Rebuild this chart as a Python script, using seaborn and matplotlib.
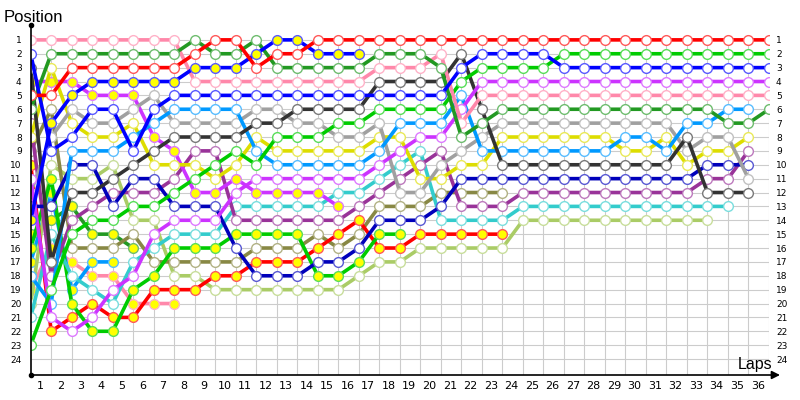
import numpy as np
import pandas as pd
import matplotlib
matplotlib.use("Agg")
import matplotlib.pyplot as plt
import seaborn as sns
from matplotlib.lines import Line2D
from matplotlib.colors import to_rgb

# ---------------- data (position per lap, lap 0 = grid) ----------------
lap_labels = list(range(1, 37))
position_labels = list(range(1, 25))

red_w = [5,5,3,3,3,3,3,3,2,1, 1,3,2,2,1,1,1,1,1,1, 1,1,1,1,1,1,1,1,1,1, 1,1,1,1,1,1,1]
green_w = [23,19,15,14,14,13,13,12,11,10, 9,10,8,8,8,7,7,6,6,6, 6,4,3,3,3,3,2,2,2,2, 2,2,2,2,2,2,2]
blue_w = [2,9,8,6,6,9,6,5,5,5, 5,5,5,5,5,5,5,5,5,5, 5,3,2,2,2,2,3,3,3,3, 3,3,3,3,3,3,3]
purple_w = [11,21,22,21,19,18,15,14,14,14, 12,11,11,11,11,11,11,10,9,8, 8,6,4,4,4,4,4,4,4,4, 4,4,4,4,4,4,4]
pink_w = [1,1,1,1,1,1,1,1,4,4, 4,4,4,4,4,4,4,3,3,3, 2,7,5,5,5,5,5,5,5,5, 5,5,5,5,5,5,5]
dkgreen_w = [6,2,2,2,2,2,2,2,1,2, 2,1,3,3,3,3,3,2,2,2, 3,8,7,6,6,6,6,6,6,6, 6,6,6,6,7,7,6]
gray_w = [12,8,6,7,7,6,5,7,7,7, 7,6,6,7,7,8,8,7,12,12, 10,9,8,7,7,7,7,7,7,7, 7,7,9,8,8,11]
yellow_w = [8,3,7,8,8,7,10,10,10,11, 10,8,9,9,9,9,9,8,8,11, 11,10,10,8,8,8,8,8,8,9, 9,8,10,9,9,8]
lightblue_w = [18,20,9,9,9,8,7,6,6,6, 6,9,10,10,10,10,10,9,7,7, 7,5,9,9,9,9,9,9,9,8, 8,9,7,7,6,6]
black_w = [3,17,12,12,11,10,9,8,8,8, 8,7,7,6,6,6,6,4,4,4, 4,2,6,10,10,10,10,10,10,10, 10,10,8,12,12,12]
darkblue_w = [13,13,10,10,13,11,11,13,13,13, 16,18,18,18,17,17,16,14,14,14, 13,11,11,11,11,11,11,11,11,11, 11,11,11,10,10,10]
plum_w = [7,18,14,13,12,12,12,11,9,9, 14,14,14,14,14,14,13,12,11,10, 9,13,13,13,12,12,12,12,12,12, 12,12,12,11,11,9]
cyan_w = [21,15,18,19,20,17,16,15,15,15, 13,13,13,13,13,12,12,11,10,9, 14,14,14,14,13,13,13,13,13,13, 13,13,13,13,13]
olive_w = [9,6,16,16,16,15,17,17,17,17, 17,16,16,16,15,16,15,13,13,13, 12,12,12,12]
lightgreen_w = [20,10,11,11,10,14,14,18,18,19, 19,19,19,19,19,19,18,17,17,16, 16,16,16,16,14,14,14,14,14,14, 14,14,14,14]
red_y = [10,22,21,20,21,21,19,19,19,18, 18,17,17,17,16,15,14,16,16,15, 15,15,15,15]
green_y = [16,11,20,22,22,19,18,16,16,16, 15,15,15,15,18,18,17,15,15]
blue_y = [14,7,5,4,4,4,4,4,3,3, 3,2,1,1,2,2,2]
purple_y = [4,4,4,5,5,5,8,9,12,12, 11,12,12,12,12,13]
dkgreen_y = [15,14,13,15,15,16]
lightblue_y = [17,12,19,17,17]
pink_y = [19,16,17,18,18,20,20,20]

drivers = [
    ("pink_y", pink_y, "#ff88aa", "#ffff00"),
    ("lightblue_y", lightblue_y, "#0099ff", "#ffff00"),
    ("dkgreen_y", dkgreen_y, "#229922", "#ffff00"),
    ("lightgreen_w", lightgreen_w, "#aacc66", "white"),
    ("olive_w", olive_w, "#888844", "white"),
    ("red_y", red_y, "#ff0000", "#ffff00"),
    ("green_y", green_y, "#00cc00", "#ffff00"),
    ("cyan_w", cyan_w, "#33cccc", "white"),
    ("plum_w", plum_w, "#993399", "white"),
    ("darkblue_w", darkblue_w, "#0000bb", "white"),
    ("purple_y", purple_y, "#cc33ff", "#ffff00"),
    ("yellow_w", yellow_w, "#dddd00", "white"),
    ("gray_w", gray_w, "#a0a0a0", "white"),
    ("lightblue_w", lightblue_w, "#0099ff", "white"),
    ("black_w", black_w, "#333333", "white"),
    ("purple_w", purple_w, "#cc33ff", "white"),
    ("green_w", green_w, "#00cc00", "white"),
    ("pink_w", pink_w, "#ff88aa", "white"),
    ("dkgreen_w", dkgreen_w, "#229922", "white"),
    ("blue_y", blue_y, "#0000ff", "#ffff00"),
    ("blue_w", blue_w, "#0000ff", "white"),
    ("red_w", red_w, "#ff0000", "white"),
]

rows = []
for name, vals, col, fill in drivers:
    for lap, p in enumerate(vals):
        rows.append({"driver": name, "lap": lap, "position": p})
df = pd.DataFrame(rows)

# ---------------- figure ----------------
W, H = 800, 400
fig = plt.figure(figsize=(8, 4), dpi=100)
fig.patch.set_facecolor("white")
ax = fig.add_axes([30.7 / W, 25 / H, 738.3 / W, 349 / H])
ax.set_xlim(0, 36)
ax.set_ylim(25.15, 0)

# grid
ax.hlines(position_labels, 0, 36, color="#cccccc", lw=0.8, zorder=0)
ax.vlines(lap_labels, 1, 25.15, color="#cccccc", lw=0.8, zorder=0)

def lighten(c, f=0.35):
    r, g, b = to_rgb(c)
    return (r + (1 - r) * f, g + (1 - g) * f, b + (1 - b) * f)

for i, (name, vals, col, fill) in enumerate(drivers):
    sub = df[df["driver"] == name]
    sns.lineplot(data=sub, x="lap", y="position", ax=ax, color=col, lw=2.6,
                 marker="o", markersize=7, markerfacecolor=fill,
                 markeredgecolor=lighten(col), markeredgewidth=1.0,
                 legend=False, zorder=2 + i * 0.01)

ax.set_xlabel("")
ax.set_ylabel("")
for s in ax.spines.values():
    s.set_visible(False)

# tick labels
ax.set_yticks(position_labels)
ax.set_yticklabels([str(p) for p in position_labels], fontsize=6.5)
ax.tick_params(axis="y", length=0, pad=6.5)
ax.set_xticks(np.array(lap_labels) - 0.55)
ax.set_xticklabels([str(l) for l in lap_labels], fontsize=8)
ax.tick_params(axis="x", length=0, pad=4)

ax2 = ax.twinx()
ax2.set_ylim(ax.get_ylim())
ax2.set_yticks(position_labels)
ax2.set_yticklabels([str(p) for p in position_labels], fontsize=6.5)
ax2.tick_params(axis="y", length=0, pad=5)
for s in ax2.spines.values():
    s.set_visible(False)

# axis lines with arrows
ax.annotate("", xy=(780, 25), xytext=(30.7, 25), xycoords="figure pixels",
            textcoords="figure pixels",
            arrowprops=dict(arrowstyle="-|>", color="black", lw=1.2,
                            mutation_scale=12, shrinkA=0, shrinkB=0))
fig.add_artist(Line2D([30.7 / W, 30.7 / W], [25 / H, 375 / H], color="black", lw=1.2))
fig.add_artist(Line2D([30.7 / W], [375 / H], marker="o", markersize=3, color="black"))
fig.add_artist(Line2D([30.7 / W], [25 / H], marker="o", markersize=3, color="black"))

fig.text(4 / W, 1 - 22 / H, "Position", fontsize=12, family="Liberation Sans", va="baseline")
fig.text(772 / W, 1 - 369 / H, "Laps", fontsize=11.5, family="Liberation Sans",
         va="baseline", ha="right")

fig.savefig("out.png", dpi=100, facecolor="white")
